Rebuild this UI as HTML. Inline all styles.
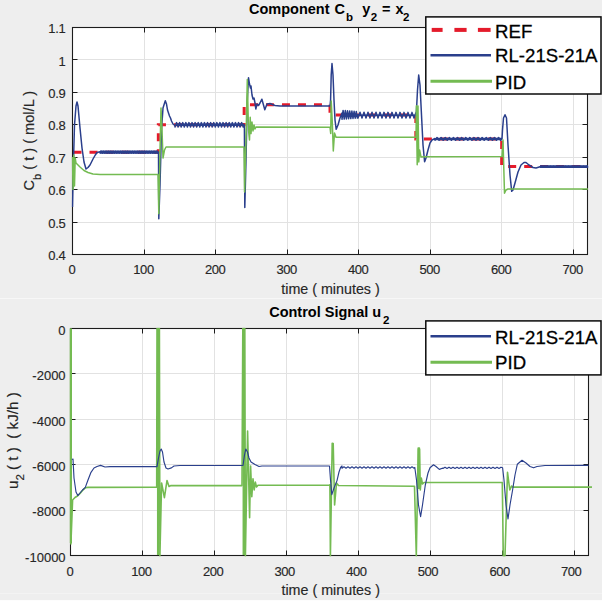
<!DOCTYPE html>
<html><head><meta charset="utf-8"><title>Component Cb and Control Signal u2</title>
<style>html,body{margin:0;padding:0;background:#eeeeee;}body{width:602px;height:601px;position:relative;overflow:hidden;}</style>
</head><body>
<svg width="602" height="601" viewBox="0 0 602 601" style="position:absolute;left:0;top:0">
<rect x="0" y="0" width="602" height="601" fill="#eeeeee"/>
<rect x="0" y="298" width="602" height="1" fill="#f7f7f7"/>
<rect x="0" y="593" width="602" height="1" fill="#f3f3f3"/>
<rect x="0" y="600" width="602" height="1" fill="#fdfdfd"/>
<rect x="72.5" y="27.5" width="515.0" height="227.0" fill="#ffffff"/>
<path d="M144.5 27.5V254.5M215.5 27.5V254.5M287.5 27.5V254.5M358.5 27.5V254.5M430.5 27.5V254.5M501.5 27.5V254.5M573.5 27.5V254.5M72.5 222.5H587.5M72.5 189.5H587.5M72.5 157.5H587.5M72.5 124.5H587.5M72.5 92.5H587.5M72.5 59.5H587.5" stroke="#e2e2e2" stroke-width="1" fill="none"/>
<clipPath id="ct"><rect x="71.5" y="26.5" width="517.0" height="229.0"/></clipPath>
<path d="M72.5 254.5V249.5M72.5 27.5V32.5M144.5 254.5V249.5M144.5 27.5V32.5M215.5 254.5V249.5M215.5 27.5V32.5M287.5 254.5V249.5M287.5 27.5V32.5M358.5 254.5V249.5M358.5 27.5V32.5M430.5 254.5V249.5M430.5 27.5V32.5M501.5 254.5V249.5M501.5 27.5V32.5M573.5 254.5V249.5M573.5 27.5V32.5M72.5 254.5H77.5M587.5 254.5H582.5M72.5 222.5H77.5M587.5 222.5H582.5M72.5 189.5H77.5M587.5 189.5H582.5M72.5 157.5H77.5M587.5 157.5H582.5M72.5 124.5H77.5M587.5 124.5H582.5M72.5 92.5H77.5M587.5 92.5H582.5M72.5 59.5H77.5M587.5 59.5H582.5M72.5 27.5H77.5M587.5 27.5H582.5" stroke="#1c1c1c" stroke-width="1" fill="none"/>
<rect x="72.5" y="27.5" width="515.0" height="227.0" fill="none" stroke="#1c1c1c" stroke-width="1.1"/>
<g clip-path="url(#ct)">
<path d="M73.5 152.35 L158.33 152.35 L158.33 124.79 L244.17 124.79 L244.17 104.81 L330 104.81 L330 115.06 L415.83 115.06 L415.83 138.89 L501.67 138.89 L501.67 166.59 L587.5 166.59" stroke="#e41b2b" stroke-width="3" fill="none" stroke-dasharray="8 8"/>
<path d="M100 152.2H158" stroke="#2a3f8c" stroke-width="3.2" fill="none"/>
<path d="M176 124.8H244" stroke="#2a3f8c" stroke-width="2.6" fill="none"/>
<path d="M346 115.2H416" stroke="#2a3f8c" stroke-width="1.6" fill="none"/>
<path d="M436 138.9H502" stroke="#2a3f8c" stroke-width="2.5" fill="none"/>
<path d="M540 166.6H588" stroke="#2a3f8c" stroke-width="2.8" fill="none"/>
<path d="M72.5 207 L73.5 160 L74.5 125 L76 106 L77 102 L78 106 L80 128 L82 148 L84 162 L86 169 L88 167.5 L90 165 L93 159 L95.3 155 L97 152.5 L100 151.8 L100 153.1 L101.2 151.3 L102.4 153.1 L103.6 151.3 L104.8 153.1 L106 151.3 L107.2 153.1 L108.4 151.3 L109.6 153.1 L110.8 151.3 L112 153.1 L113.2 151.3 L114.4 153.1 L115.6 151.3 L116.8 153.1 L118 151.3 L119.2 153.1 L120.4 151.3 L121.6 153.1 L122.8 151.3 L124 153.1 L125.2 151.3 L126.4 153.1 L127.6 151.3 L128.8 153.1 L130 151.3 L131.2 153.1 L132.4 151.3 L133.6 153.1 L134.8 151.3 L136 153.1 L137.2 151.3 L138.4 153.1 L139.6 151.3 L140.8 153.1 L142 151.3 L143.2 153.1 L144.4 151.3 L145.6 153.1 L146.8 151.3 L148 153.1 L149.2 151.3 L150.4 153.1 L151.6 151.3 L152.8 153.1 L154 151.3 L155.2 153.1 L156.4 151.3 L157.6 153.1 L158 152.2 L158.5 152 L158.8 218.8 L160 185 L161.5 130 L163 108 L165.3 100.8 L166.5 104 L167.5 110 L168.5 113 L169.5 116 L170.5 118 L171.5 121 L173 124 L175 125.5 L175 127 L176.55 122.6 L178.1 127 L179.65 122.6 L181.2 127 L182.75 122.6 L184.3 127 L185.85 122.6 L187.4 127 L188.95 122.6 L190.5 127 L192.05 122.6 L193.6 127 L195.15 122.6 L196.7 127 L198.25 122.6 L199.8 127 L201.35 122.6 L202.9 127 L204.45 122.6 L206 127 L207.55 122.6 L209.1 127 L210.65 122.6 L212.2 127 L213.75 122.6 L215.3 127 L216.85 122.6 L218.4 127 L219.95 122.6 L221.5 127 L223.05 122.6 L224.6 127 L226.15 122.6 L227.7 127 L229.25 122.6 L230.8 127 L232.35 122.6 L233.9 127 L235.45 122.6 L237 127 L238.55 122.6 L240.1 127 L241.65 122.6 L243.2 127 L244 124.8 L244.4 125 L244.8 207.4 L246 160 L247.3 100 L248.5 77.7 L249.5 84 L250.5 88 L251 86 L252 95 L253 99 L254 98 L255 103 L255.8 109 L257 104 L258.5 105.5 L260 103 L261.9 99.2 L263.5 105 L264.8 109.7 L267 104 L270 103.5 L275 105.5 L280 106 L330 106 L330.6 100 L331.2 75 L332 63.5 L333 75 L334 100 L335 120 L336.2 129.3 L338 125 L340 118 L342 113 L342 119.3 L343.1 110.39 L344.2 119.12 L345.3 110.57 L346.4 118.94 L347.5 110.75 L348.6 118.76 L349.7 110.93 L350.8 118.58 L351.9 111.1 L353 118.41 L354.1 111.28 L355.2 118.23 L356.3 111.46 L357.4 118.05 L358 114.8 L358 118.1 L360 112.3 L362 118.09 L364 112.31 L366 118.09 L368 112.32 L370 118.08 L372 112.32 L374 118.07 L376 112.33 L378 118.07 L380 112.34 L382 118.06 L384 112.34 L386 118.05 L388 112.35 L390 118.04 L392 112.36 L394 118.04 L396 112.37 L398 118.03 L400 112.37 L402 118.02 L404 112.38 L406 118.02 L408 112.39 L410 118.01 L412 112.39 L414 118 L416 112.4 L416 115.2 L416.5 110 L417.5 90 L418.7 75 L420 85 L421.5 115 L423 145 L424.6 161.8 L426 158 L428 150 L430 143 L432 140 L435 138.5 L435 140.3 L437.05 137.5 L439.1 140.3 L441.15 137.5 L443.2 140.3 L445.25 137.5 L447.3 140.3 L449.35 137.5 L451.4 140.3 L453.45 137.5 L455.5 140.3 L457.55 137.5 L459.6 140.3 L461.65 137.5 L463.7 140.3 L465.75 137.5 L467.8 140.3 L469.85 137.5 L471.9 140.3 L473.95 137.5 L476 140.3 L478.05 137.5 L480.1 140.3 L482.15 137.5 L484.2 140.3 L486.25 137.5 L488.3 140.3 L490.35 137.5 L492.4 140.3 L494.45 137.5 L496.5 140.3 L498.55 137.5 L500.6 140.3 L502 138.9 L502.5 130 L503.5 118 L505 114.7 L506.5 118 L508 145 L510 175 L511.7 191.3 L513 190 L515 183 L518 172 L521 165 L524 162.5 L526 162.5 L529 165 L533 167.5 L536 168 L540 166.8 L540 167 L541.5 166.2 L543 167 L544.5 166.2 L546 167 L547.5 166.2 L549 167 L550.5 166.2 L552 167 L553.5 166.2 L555 167 L556.5 166.2 L558 167 L559.5 166.2 L561 167 L562.5 166.2 L564 167 L565.5 166.2 L567 167 L568.5 166.2 L570 167 L571.5 166.2 L573 167 L574.5 166.2 L576 167 L577.5 166.2 L579 167 L580.5 166.2 L582 167 L583.5 166.2 L585 167 L586.5 166.2 L588 167 L588 166.6" stroke="#2a3f8c" stroke-width="1.5" fill="none" stroke-linejoin="round"/>
<path d="M72.5 157 L73 189.5 L73.8 155 L74.5 186 L75.2 158 L76 163 L80 167 L84 170.5 L88 172.5 L93 174 L100 174.5 L158 174.5 L158.8 213.8 L160 150 L161 108 L162 130 L163 158 L164.5 150 L166 147 L244 147 L244.6 192 L246 140 L247.3 79.4 L248.5 130 L249.5 140 L250.2 117.3 L251 133.6 L252 122 L253 131 L254 125 L255 129 L256 127 L330 127.2 L330.7 133.5 L331.2 101 L332.2 120 L333.3 151 L334.5 133 L336 137.3 L416 137.3 L416.4 105.8 L417.2 164.8 L418 106 L418.8 162 L419.6 150 L421 157 L425 156.7 L502 156.5 L503 140 L504.5 193.3 L506 190 L508 189 L588 189" stroke="#74bb52" stroke-width="1.5" fill="none" stroke-linejoin="round"/>
</g>
<rect x="70.5" y="328.5" width="518.0" height="227.0" fill="#ffffff"/>
<path d="M142.5 328.5V555.5M214.5 328.5V555.5M286.5 328.5V555.5M358.5 328.5V555.5M430.5 328.5V555.5M502.5 328.5V555.5M574.5 328.5V555.5M70.5 510.5H588.5M70.5 464.5H588.5M70.5 419.5H588.5M70.5 373.5H588.5" stroke="#e2e2e2" stroke-width="1" fill="none"/>
<clipPath id="cb"><rect x="69.5" y="327.5" width="520.0" height="229.0"/></clipPath>
<path d="M70.5 555.5V550.5M70.5 328.5V333.5M142.5 555.5V550.5M142.5 328.5V333.5M214.5 555.5V550.5M214.5 328.5V333.5M286.5 555.5V550.5M286.5 328.5V333.5M358.5 555.5V550.5M358.5 328.5V333.5M430.5 555.5V550.5M430.5 328.5V333.5M502.5 555.5V550.5M502.5 328.5V333.5M574.5 555.5V550.5M574.5 328.5V333.5M70.5 555.5H75.5M588.5 555.5H583.5M70.5 510.5H75.5M588.5 510.5H583.5M70.5 464.5H75.5M588.5 464.5H583.5M70.5 419.5H75.5M588.5 419.5H583.5M70.5 373.5H75.5M588.5 373.5H583.5M70.5 328.5H75.5M588.5 328.5H583.5" stroke="#1c1c1c" stroke-width="1" fill="none"/>
<rect x="70.5" y="328.5" width="518.0" height="227.0" fill="none" stroke="#1c1c1c" stroke-width="1.1"/>
<g clip-path="url(#cb)">
<path d="M158.2 328.5V555M243.8 328.5V555M419 449V489" stroke="#74bb52" stroke-width="2.5" fill="none"/>
<path d="M70.8 328.5V543" stroke="#74bb52" stroke-width="2.4" fill="none"/>
<path d="M70.6 328.5 L70.9 544 L72.6 500 L75 497.5 L77.8 495.8 L80 493.5 L82.5 490.5 L85.3 487.8 L88 487.4 L156.7 487.2 L157 328.5 L159.4 328.5 L159.9 556 L161.6 483 L164.4 497.7 L167 480.5 L169 486.5 L171 485.6 L242 485.6 L242.8 328.5 L244.8 328.5 L245.4 556 L247.6 431 L249.6 517.7 L250.6 466 L251.8 496.7 L253 478.8 L254.2 490 L255.3 482 L256.5 487 L258 485.2 L330 485 L329.9 484.8 L330.4 556 L332.2 443.3 L333.2 443.5 L334.6 505 L336.5 483 L338.5 485.5 L414.5 486.2 L416.3 556 L418.2 448 L419.4 448 L420.3 490 L421.3 478 L422.5 484 L424 482.5 L502.3 482.5 L503.3 556 L505 556 L507.5 472.4 L509.8 490 L511.5 486 L513 487.1 L588.5 487.1" stroke="#74bb52" stroke-width="1.6" fill="none" stroke-linejoin="round"/>
<path d="M72 459.5 L73 459 L74 478 L76 492 L77.8 495.6 L80 493 L82.5 490 L85.3 487.4 L88 480 L91 472.3 L94 468 L97 466.5 L100.6 465.4 L105 467 L110 466.6 L157 466.6 L158.5 458 L160 451 L161.2 449 L162.5 452 L164 462 L166 468 L168 469 L171.4 467.9 L174 466 L180 465.5 L243 465.5 L244.5 455 L245.8 449 L247.5 452 L249 458 L251 462 L255 464.5 L259 466.5 L262 466 L329.5 466 L330.5 480 L331.8 494.6 L334 488 L337 480.6 L339 472 L340.6 467.5 L342 466 L342 468.2 L344 466.8 L346 468.2 L348 466.8 L350 468.2 L352 466.8 L354 468.2 L356 466.8 L358 468.2 L360 466.8 L362 468.2 L364 466.8 L366 468.2 L368 466.8 L370 468.2 L372 466.8 L374 468.2 L376 466.8 L378 468.2 L380 466.8 L382 468.2 L384 466.8 L386 468.2 L388 466.8 L390 468.2 L392 466.8 L394 468.2 L396 466.8 L398 468.2 L400 466.8 L402 468.2 L404 466.8 L406 468.2 L408 466.8 L410 468.2 L412 466.8 L414 468.2 L414.8 467.5 L416.5 480 L418.5 505 L420.6 516.7 L422.5 505 L425.3 485 L428 473 L430 467.8 L433.5 464.8 L436 466.5 L439.3 469.4 L443 468 L443 468.4 L445 467.2 L447 468.4 L449 467.2 L451 468.4 L453 467.2 L455 468.4 L457 467.2 L459 468.4 L461 467.2 L463 468.4 L465 467.2 L467 468.4 L469 467.2 L471 468.4 L473 467.2 L475 468.4 L477 467.2 L479 468.4 L481 467.2 L483 468.4 L485 467.2 L487 468.4 L489 467.2 L491 468.4 L493 467.2 L495 468.4 L497 467.2 L499 468.4 L501 467.2 L502.6 467.8 L504 480 L506 505 L508 519 L510 505 L512.6 490 L515 475 L517.3 464.3 L522 460.3 L526 463 L530 466.5 L533.6 467.8 L537 466.5 L545 465.5 L588.5 465.4" stroke="#2a3f8c" stroke-width="1.15" fill="none" stroke-linejoin="round"/>
</g>
<path d="M588 487.1H592" stroke="#74bb52" stroke-width="1.7"/>
<text x="72.0" y="274.0" font-family='"Liberation Sans", Arial, Helvetica, sans-serif' font-size="13" font-weight="normal" fill="#262626" stroke="#262626" stroke-width="0.15" text-anchor="middle" letter-spacing="-0.45">0</text>
<text x="69.8" y="575.8" font-family='"Liberation Sans", Arial, Helvetica, sans-serif' font-size="13" font-weight="normal" fill="#262626" stroke="#262626" stroke-width="0.15" text-anchor="middle" letter-spacing="-0.45">0</text>
<text x="143.52777777777777" y="274.0" font-family='"Liberation Sans", Arial, Helvetica, sans-serif' font-size="13" font-weight="normal" fill="#262626" stroke="#262626" stroke-width="0.15" text-anchor="middle" letter-spacing="-0.45">100</text>
<text x="141.43" y="575.8" font-family='"Liberation Sans", Arial, Helvetica, sans-serif' font-size="13" font-weight="normal" fill="#262626" stroke="#262626" stroke-width="0.15" text-anchor="middle" letter-spacing="-0.45">100</text>
<text x="215.05555555555554" y="274.0" font-family='"Liberation Sans", Arial, Helvetica, sans-serif' font-size="13" font-weight="normal" fill="#262626" stroke="#262626" stroke-width="0.15" text-anchor="middle" letter-spacing="-0.45">200</text>
<text x="213.06" y="575.8" font-family='"Liberation Sans", Arial, Helvetica, sans-serif' font-size="13" font-weight="normal" fill="#262626" stroke="#262626" stroke-width="0.15" text-anchor="middle" letter-spacing="-0.45">200</text>
<text x="286.58333333333337" y="274.0" font-family='"Liberation Sans", Arial, Helvetica, sans-serif' font-size="13" font-weight="normal" fill="#262626" stroke="#262626" stroke-width="0.15" text-anchor="middle" letter-spacing="-0.45">300</text>
<text x="284.69" y="575.8" font-family='"Liberation Sans", Arial, Helvetica, sans-serif' font-size="13" font-weight="normal" fill="#262626" stroke="#262626" stroke-width="0.15" text-anchor="middle" letter-spacing="-0.45">300</text>
<text x="358.1111111111111" y="274.0" font-family='"Liberation Sans", Arial, Helvetica, sans-serif' font-size="13" font-weight="normal" fill="#262626" stroke="#262626" stroke-width="0.15" text-anchor="middle" letter-spacing="-0.45">400</text>
<text x="356.32" y="575.8" font-family='"Liberation Sans", Arial, Helvetica, sans-serif' font-size="13" font-weight="normal" fill="#262626" stroke="#262626" stroke-width="0.15" text-anchor="middle" letter-spacing="-0.45">400</text>
<text x="429.6388888888889" y="274.0" font-family='"Liberation Sans", Arial, Helvetica, sans-serif' font-size="13" font-weight="normal" fill="#262626" stroke="#262626" stroke-width="0.15" text-anchor="middle" letter-spacing="-0.45">500</text>
<text x="427.95" y="575.8" font-family='"Liberation Sans", Arial, Helvetica, sans-serif' font-size="13" font-weight="normal" fill="#262626" stroke="#262626" stroke-width="0.15" text-anchor="middle" letter-spacing="-0.45">500</text>
<text x="501.1666666666667" y="274.0" font-family='"Liberation Sans", Arial, Helvetica, sans-serif' font-size="13" font-weight="normal" fill="#262626" stroke="#262626" stroke-width="0.15" text-anchor="middle" letter-spacing="-0.45">600</text>
<text x="499.58" y="575.8" font-family='"Liberation Sans", Arial, Helvetica, sans-serif' font-size="13" font-weight="normal" fill="#262626" stroke="#262626" stroke-width="0.15" text-anchor="middle" letter-spacing="-0.45">600</text>
<text x="572.6944444444445" y="274.0" font-family='"Liberation Sans", Arial, Helvetica, sans-serif' font-size="13" font-weight="normal" fill="#262626" stroke="#262626" stroke-width="0.15" text-anchor="middle" letter-spacing="-0.45">700</text>
<text x="571.21" y="575.8" font-family='"Liberation Sans", Arial, Helvetica, sans-serif' font-size="13" font-weight="normal" fill="#262626" stroke="#262626" stroke-width="0.15" text-anchor="middle" letter-spacing="-0.45">700</text>
<text x="65.5" y="260.1000000000001" font-family='"Liberation Sans", Arial, Helvetica, sans-serif' font-size="13" font-weight="normal" fill="#262626" stroke="#262626" stroke-width="0.15" text-anchor="end" letter-spacing="-0.3">0.4</text>
<text x="65.5" y="227.6714285714286" font-family='"Liberation Sans", Arial, Helvetica, sans-serif' font-size="13" font-weight="normal" fill="#262626" stroke="#262626" stroke-width="0.15" text-anchor="end" letter-spacing="-0.3">0.5</text>
<text x="65.5" y="195.2428571428572" font-family='"Liberation Sans", Arial, Helvetica, sans-serif' font-size="13" font-weight="normal" fill="#262626" stroke="#262626" stroke-width="0.15" text-anchor="end" letter-spacing="-0.3">0.6</text>
<text x="65.5" y="162.81428571428575" font-family='"Liberation Sans", Arial, Helvetica, sans-serif' font-size="13" font-weight="normal" fill="#262626" stroke="#262626" stroke-width="0.15" text-anchor="end" letter-spacing="-0.3">0.7</text>
<text x="65.5" y="130.3857142857143" font-family='"Liberation Sans", Arial, Helvetica, sans-serif' font-size="13" font-weight="normal" fill="#262626" stroke="#262626" stroke-width="0.15" text-anchor="end" letter-spacing="-0.3">0.8</text>
<text x="65.5" y="97.95714285714287" font-family='"Liberation Sans", Arial, Helvetica, sans-serif' font-size="13" font-weight="normal" fill="#262626" stroke="#262626" stroke-width="0.15" text-anchor="end" letter-spacing="-0.3">0.9</text>
<text x="65.5" y="65.52857142857145" font-family='"Liberation Sans", Arial, Helvetica, sans-serif' font-size="13" font-weight="normal" fill="#262626" stroke="#262626" stroke-width="0.15" text-anchor="end" letter-spacing="-0.3">1</text>
<text x="65.5" y="33.1" font-family='"Liberation Sans", Arial, Helvetica, sans-serif' font-size="13" font-weight="normal" fill="#262626" stroke="#262626" stroke-width="0.15" text-anchor="end" letter-spacing="-0.3">1.1</text>
<text x="65.6" y="561.7" font-family='"Liberation Sans", Arial, Helvetica, sans-serif' font-size="13" font-weight="normal" fill="#262626" stroke="#262626" stroke-width="0.15" text-anchor="end" >-10000</text>
<text x="65.6" y="516.3000000000001" font-family='"Liberation Sans", Arial, Helvetica, sans-serif' font-size="13" font-weight="normal" fill="#262626" stroke="#262626" stroke-width="0.15" text-anchor="end" >-8000</text>
<text x="65.6" y="470.9" font-family='"Liberation Sans", Arial, Helvetica, sans-serif' font-size="13" font-weight="normal" fill="#262626" stroke="#262626" stroke-width="0.15" text-anchor="end" >-6000</text>
<text x="65.6" y="425.5" font-family='"Liberation Sans", Arial, Helvetica, sans-serif' font-size="13" font-weight="normal" fill="#262626" stroke="#262626" stroke-width="0.15" text-anchor="end" >-4000</text>
<text x="65.6" y="380.09999999999997" font-family='"Liberation Sans", Arial, Helvetica, sans-serif' font-size="13" font-weight="normal" fill="#262626" stroke="#262626" stroke-width="0.15" text-anchor="end" >-2000</text>
<text x="65.6" y="334.7" font-family='"Liberation Sans", Arial, Helvetica, sans-serif' font-size="13" font-weight="normal" fill="#262626" stroke="#262626" stroke-width="0.15" text-anchor="end" >0</text>
<text x="249" y="13.5" font-family='"Liberation Sans", Arial, Helvetica, sans-serif' font-size="14.5" font-weight="bold" fill="#000">Component</text>
<text x="334.4" y="13.5" font-family='"Liberation Sans", Arial, Helvetica, sans-serif' font-size="14.5" font-weight="bold" fill="#000">C</text>
<text x="345.9" y="20.6" font-family='"Liberation Sans", Arial, Helvetica, sans-serif' font-size="11.5" font-weight="bold" fill="#000">b</text>
<text x="362.2" y="13.5" font-family='"Liberation Sans", Arial, Helvetica, sans-serif' font-size="14.5" font-weight="bold" fill="#000">y</text>
<text x="370.8" y="20.8" font-family='"Liberation Sans", Arial, Helvetica, sans-serif' font-size="11.5" font-weight="bold" fill="#000">2</text>
<text x="381.9" y="13.5" font-family='"Liberation Sans", Arial, Helvetica, sans-serif' font-size="14.5" font-weight="bold" fill="#000">=</text>
<text x="395.5" y="13.5" font-family='"Liberation Sans", Arial, Helvetica, sans-serif' font-size="14.5" font-weight="bold" fill="#000">x</text>
<text x="402.9" y="20.8" font-family='"Liberation Sans", Arial, Helvetica, sans-serif' font-size="11.5" font-weight="bold" fill="#000">2</text>
<text x="269.2" y="316.8" font-family='"Liberation Sans", Arial, Helvetica, sans-serif' font-size="14.5" font-weight="bold" fill="#000">Control Signal u</text>
<text x="383.1" y="324.2" font-family='"Liberation Sans", Arial, Helvetica, sans-serif' font-size="11.5" font-weight="bold" fill="#000">2</text>
<text x="330.5" y="293.5" font-family='"Liberation Sans", Arial, Helvetica, sans-serif' font-size="14.3" font-weight="normal" fill="#262626" stroke="#262626" stroke-width="0.15" text-anchor="middle" >time ( minutes )</text>
<text x="330.7" y="594.5" font-family='"Liberation Sans", Arial, Helvetica, sans-serif' font-size="14.3" font-weight="normal" fill="#262626" stroke="#262626" stroke-width="0.15" text-anchor="middle" >time ( minutes )</text>
<text transform="translate(34.4,190.5) rotate(-90)" font-family='"Liberation Sans", Arial, Helvetica, sans-serif' font-size="14.6" fill="#262626" stroke="#262626" stroke-width="0.15" xml:space="preserve">C<tspan font-size="11" dy="6.5">b</tspan><tspan dy="-6.5"> ( t ) ( mol/L )</tspan></text>
<text transform="translate(17.6,489) rotate(-90)" font-family='"Liberation Sans", Arial, Helvetica, sans-serif' font-size="15.2" fill="#262626" stroke="#262626" stroke-width="0.15" xml:space="preserve">u<tspan font-size="11.5" dy="6.5">2</tspan><tspan dy="-6.5"> ( t )  ( kJ/h )</tspan></text>
<rect x="425.8" y="16.9" width="175.2" height="77.1" fill="#ffffff" stroke="#0a0a0a" stroke-width="1.5"/>
<rect x="431.7" y="27.9" width="10.900000000000034" height="4" fill="#e41b2b"/>
<rect x="454.4" y="27.9" width="12.200000000000045" height="4" fill="#e41b2b"/>
<rect x="477.9" y="27.9" width="12.700000000000045" height="4" fill="#e41b2b"/>
<text x="495.1" y="37.7" font-family='"Liberation Sans", Arial, Helvetica, sans-serif' font-size="18.6" fill="#000" stroke="#000" stroke-width="0.3">REF</text>
<path d="M430.5 55.2H491" stroke="#2a3f8c" stroke-width="2.6"/>
<text x="495.1" y="62.4" font-family='"Liberation Sans", Arial, Helvetica, sans-serif' font-size="18.6" fill="#000" stroke="#000" stroke-width="0.3">RL-21S-21A</text>
<path d="M430.5 81.3H492" stroke="#74bb52" stroke-width="3"/>
<text x="495.1" y="88.5" font-family='"Liberation Sans", Arial, Helvetica, sans-serif' font-size="18.6" fill="#000" stroke="#000" stroke-width="0.3">PID</text>
<rect x="425.8" y="320.9" width="175.2" height="54.0" fill="#ffffff" stroke="#0a0a0a" stroke-width="1.5"/>
<path d="M430.5 336.3H491" stroke="#2a3f8c" stroke-width="2.6"/>
<text x="495.1" y="343.8" font-family='"Liberation Sans", Arial, Helvetica, sans-serif' font-size="18.6" fill="#000" stroke="#000" stroke-width="0.3">RL-21S-21A</text>
<path d="M430.5 362.2H492" stroke="#74bb52" stroke-width="3"/>
<text x="495.1" y="369.3" font-family='"Liberation Sans", Arial, Helvetica, sans-serif' font-size="18.6" fill="#000" stroke="#000" stroke-width="0.3">PID</text>
</svg>
</body></html>
